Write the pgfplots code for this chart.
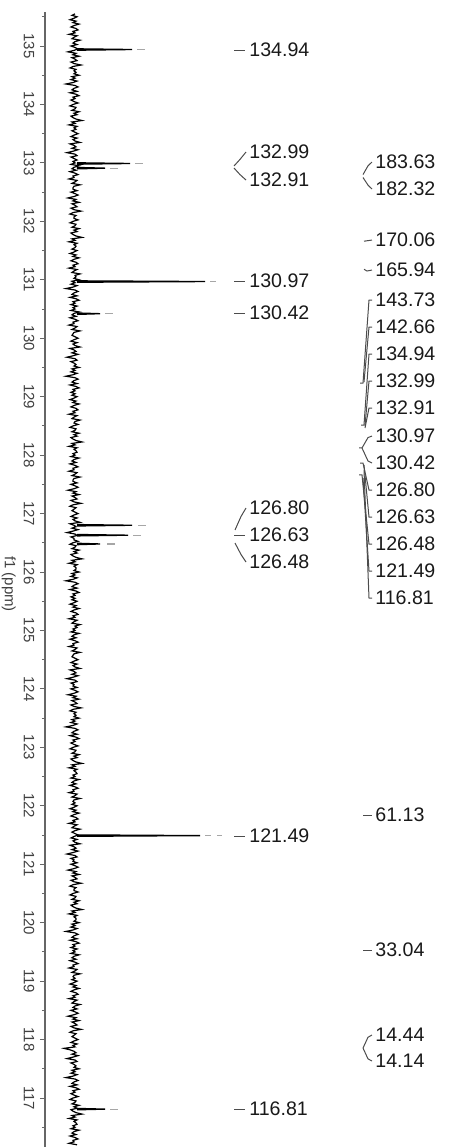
\documentclass[border=0pt]{standalone}
\usepackage{fontspec}
\setmainfont{Liberation Sans}
\usepackage{pgfplots}
\pgfplotsset{compat=1.18}
\newcommand{\lab}{\fontsize{9.8}{11}\selectfont}
\begin{document}
\begin{tikzpicture}[x=1pt,y=1pt]
\useasboundingbox (0,0) rectangle (224.5,573.5);
\begin{axis}[
  at={(22.5pt,0pt)}, anchor=south west,
  scale only axis, width=202pt, height=567.5pt,
  xmin=45, xmax=449, ymin=116.162, ymax=135.582,
  axis x line=none, axis y line*=left,
  ytick={117,118,...,135},
  minor ytick={116.5,117.5,...,135.5},
  tick align=outside, ytick pos=left,
  major tick length=2.5pt, minor tick length=1.5pt,
  tick style={color=black!60, line width=0.5pt},
  axis line style={black!60, line width=0.6pt},
  /pgf/number format/assume math mode=true,
  yticklabel style={rotate=-90, anchor=center, yshift=-5.5pt, font=\fontsize{7.5}{9}\selectfont, text=black!75},
  ylabel={f1 (ppm)},
  every axis y label/.style={at={(axis description cs:-0.09,0.496)}, rotate=-90, anchor=center, font=\fontsize{7.5}{9}\selectfont, text=black!75},
  clip=false,
]
% baseline noise
\addplot[black, line width=0.6pt] coordinates {
(75,135.55) (72,135.525) (77,135.5) (74,135.475) (70,135.45) (76,135.425) (73,135.4) (79,135.375) (74,135.35) (71,135.325) (76,135.3) (78,135.275) (73,135.25) (75,135.225) (69,135.2) (77,135.175) (74,135.15) (72,135.125) (80,135.1) (75,135.075)
(73,135.05) (77,135.025) (71,135) (75,134.975) (78,134.95) (74,134.925) (68,134.9) (76,134.875) (73,134.85) (79,134.825) (72,134.8) (75,134.775) (77,134.75) (71,134.725) (74,134.7) (81,134.675) (73,134.65) (70,134.625) (76,134.6) (74,134.575)
(76,134.55) (74,134.525) (79,134.5) (72,134.475) (75,134.45) (71,134.425) (77,134.4) (73,134.375) (66,134.35) (75,134.325) (78,134.3) (74,134.275) (72,134.25) (77,134.225) (70,134.2) (76,134.175) (79,134.15) (73,134.125) (75,134.1) (71,134.075)
(74,134.05) (78,134.025) (73,134) (70,133.975) (76,133.95) (75,133.925) (72,133.9) (79,133.875) (74,133.85) (77,133.825) (71,133.8) (73,133.775) (76,133.75) (82,133.725) (72,133.7) (75,133.675) (69,133.65) (77,133.625) (74,133.6) (76,133.575)
(72,133.55) (75,133.525) (78,133.5) (74,133.475) (71,133.45) (77,133.425) (73,133.4) (75,133.375) (80,133.35) (70,133.325) (74,133.3) (76,133.275) (72,133.25) (78,133.225) (73,133.2) (67,133.175) (75,133.15) (77,133.125) (71,133.1) (74,133.075)
(77,133.05) (73,133.025) (75,133) (71,132.975) (79,132.95) (74,132.925) (72,132.9) (76,132.875) (70,132.85) (75,132.825) (78,132.8) (73,132.775) (74,132.75) (69,132.725) (77,132.7) (75,132.675) (72,132.65) (80,132.625) (74,132.6) (73,132.575)
(73,132.55) (77,132.525) (71,132.5) (75,132.475) (78,132.45) (74,132.425) (68,132.4) (76,132.375) (73,132.35) (79,132.325) (72,132.3) (75,132.275) (77,132.25) (71,132.225) (74,132.2) (81,132.175) (73,132.15) (70,132.125) (76,132.1) (74,132.075)
(74,132.05) (78,132.025) (73,132) (70,131.975) (76,131.95) (75,131.925) (72,131.9) (79,131.875) (74,131.85) (77,131.825) (71,131.8) (73,131.775) (76,131.75) (82,131.725) (72,131.7) (75,131.675) (69,131.65) (77,131.625) (74,131.6) (76,131.575)
(75,131.55) (72,131.525) (77,131.5) (74,131.475) (70,131.45) (76,131.425) (73,131.4) (79,131.375) (74,131.35) (71,131.325) (76,131.3) (78,131.275) (73,131.25) (75,131.225) (69,131.2) (77,131.175) (74,131.15) (72,131.125) (80,131.1) (75,131.075)
(76,131.05) (74,131.025) (79,131) (72,130.975) (75,130.95) (71,130.925) (77,130.9) (73,130.875) (66,130.85) (75,130.825) (78,130.8) (74,130.775) (72,130.75) (77,130.725) (70,130.7) (76,130.675) (79,130.65) (73,130.625) (75,130.6) (71,130.575)
(77,130.55) (73,130.525) (75,130.5) (71,130.475) (79,130.45) (74,130.425) (72,130.4) (76,130.375) (70,130.35) (75,130.325) (78,130.3) (73,130.275) (74,130.25) (69,130.225) (77,130.2) (75,130.175) (72,130.15) (80,130.125) (74,130.1) (73,130.075)
(72,130.05) (75,130.025) (78,130) (74,129.975) (71,129.95) (77,129.925) (73,129.9) (75,129.875) (80,129.85) (70,129.825) (74,129.8) (76,129.775) (72,129.75) (78,129.725) (73,129.7) (67,129.675) (75,129.65) (77,129.625) (71,129.6) (74,129.575)
(76,129.55) (74,129.525) (79,129.5) (72,129.475) (75,129.45) (71,129.425) (77,129.4) (73,129.375) (66,129.35) (75,129.325) (78,129.3) (74,129.275) (72,129.25) (77,129.225) (70,129.2) (76,129.175) (79,129.15) (73,129.125) (75,129.1) (71,129.075)
(75,129.05) (72,129.025) (77,129) (74,128.975) (70,128.95) (76,128.925) (73,128.9) (79,128.875) (74,128.85) (71,128.825) (76,128.8) (78,128.775) (73,128.75) (75,128.725) (69,128.7) (77,128.675) (74,128.65) (72,128.625) (80,128.6) (75,128.575)
(74,128.55) (78,128.525) (73,128.5) (70,128.475) (76,128.45) (75,128.425) (72,128.4) (79,128.375) (74,128.35) (77,128.325) (71,128.3) (73,128.275) (76,128.25) (82,128.225) (72,128.2) (75,128.175) (69,128.15) (77,128.125) (74,128.1) (76,128.075)
(77,128.05) (73,128.025) (75,128) (71,127.975) (79,127.95) (74,127.925) (72,127.9) (76,127.875) (70,127.85) (75,127.825) (78,127.8) (73,127.775) (74,127.75) (69,127.725) (77,127.7) (75,127.675) (72,127.65) (80,127.625) (74,127.6) (73,127.575)
(73,127.55) (77,127.525) (71,127.5) (75,127.475) (78,127.45) (74,127.425) (68,127.4) (76,127.375) (73,127.35) (79,127.325) (72,127.3) (75,127.275) (77,127.25) (71,127.225) (74,127.2) (81,127.175) (73,127.15) (70,127.125) (76,127.1) (74,127.075)
(72,127.05) (75,127.025) (78,127) (74,126.975) (71,126.95) (77,126.925) (73,126.9) (75,126.875) (80,126.85) (70,126.825) (74,126.8) (76,126.775) (72,126.75) (78,126.725) (73,126.7) (67,126.675) (75,126.65) (77,126.625) (71,126.6) (74,126.575)
(74,126.55) (78,126.525) (73,126.5) (70,126.475) (76,126.45) (75,126.425) (72,126.4) (79,126.375) (74,126.35) (77,126.325) (71,126.3) (73,126.275) (76,126.25) (82,126.225) (72,126.2) (75,126.175) (69,126.15) (77,126.125) (74,126.1) (76,126.075)
(76,126.05) (74,126.025) (79,126) (72,125.975) (75,125.95) (71,125.925) (77,125.9) (73,125.875) (66,125.85) (75,125.825) (78,125.8) (74,125.775) (72,125.75) (77,125.725) (70,125.7) (76,125.675) (79,125.65) (73,125.625) (75,125.6) (71,125.575)
(75,125.55) (72,125.525) (77,125.5) (74,125.475) (70,125.45) (76,125.425) (73,125.4) (79,125.375) (74,125.35) (71,125.325) (76,125.3) (78,125.275) (73,125.25) (75,125.225) (69,125.2) (77,125.175) (74,125.15) (72,125.125) (80,125.1) (75,125.075)
(77,125.05) (73,125.025) (75,125) (71,124.975) (79,124.95) (74,124.925) (72,124.9) (76,124.875) (70,124.85) (75,124.825) (78,124.8) (73,124.775) (74,124.75) (69,124.725) (77,124.7) (75,124.675) (72,124.65) (80,124.625) (74,124.6) (73,124.575)
(72,124.55) (75,124.525) (78,124.5) (74,124.475) (71,124.45) (77,124.425) (73,124.4) (75,124.375) (80,124.35) (70,124.325) (74,124.3) (76,124.275) (72,124.25) (78,124.225) (73,124.2) (67,124.175) (75,124.15) (77,124.125) (71,124.1) (74,124.075)
(73,124.05) (77,124.025) (71,124) (75,123.975) (78,123.95) (74,123.925) (68,123.9) (76,123.875) (73,123.85) (79,123.825) (72,123.8) (75,123.775) (77,123.75) (71,123.725) (74,123.7) (81,123.675) (73,123.65) (70,123.625) (76,123.6) (74,123.575)
(76,123.55) (74,123.525) (79,123.5) (72,123.475) (75,123.45) (71,123.425) (77,123.4) (73,123.375) (66,123.35) (75,123.325) (78,123.3) (74,123.275) (72,123.25) (77,123.225) (70,123.2) (76,123.175) (79,123.15) (73,123.125) (75,123.1) (71,123.075)
(74,123.05) (78,123.025) (73,123) (70,122.975) (76,122.95) (75,122.925) (72,122.9) (79,122.875) (74,122.85) (77,122.825) (71,122.8) (73,122.775) (76,122.75) (82,122.725) (72,122.7) (75,122.675) (69,122.65) (77,122.625) (74,122.6) (76,122.575)
(77,122.55) (73,122.525) (75,122.5) (71,122.475) (79,122.45) (74,122.425) (72,122.4) (76,122.375) (70,122.35) (75,122.325) (78,122.3) (73,122.275) (74,122.25) (69,122.225) (77,122.2) (75,122.175) (72,122.15) (80,122.125) (74,122.1) (73,122.075)
(75,122.05) (72,122.025) (77,122) (74,121.975) (70,121.95) (76,121.925) (73,121.9) (79,121.875) (74,121.85) (71,121.825) (76,121.8) (78,121.775) (73,121.75) (75,121.725) (69,121.7) (77,121.675) (74,121.65) (72,121.625) (80,121.6) (75,121.575)
(72,121.55) (75,121.525) (78,121.5) (74,121.475) (71,121.45) (77,121.425) (73,121.4) (75,121.375) (80,121.35) (70,121.325) (74,121.3) (76,121.275) (72,121.25) (78,121.225) (73,121.2) (67,121.175) (75,121.15) (77,121.125) (71,121.1) (74,121.075)
(73,121.05) (77,121.025) (71,121) (75,120.975) (78,120.95) (74,120.925) (68,120.9) (76,120.875) (73,120.85) (79,120.825) (72,120.8) (75,120.775) (77,120.75) (71,120.725) (74,120.7) (81,120.675) (73,120.65) (70,120.625) (76,120.6) (74,120.575)
(74,120.55) (78,120.525) (73,120.5) (70,120.475) (76,120.45) (75,120.425) (72,120.4) (79,120.375) (74,120.35) (77,120.325) (71,120.3) (73,120.275) (76,120.25) (82,120.225) (72,120.2) (75,120.175) (69,120.15) (77,120.125) (74,120.1) (76,120.075)
(76,120.05) (74,120.025) (79,120) (72,119.975) (75,119.95) (71,119.925) (77,119.9) (73,119.875) (66,119.85) (75,119.825) (78,119.8) (74,119.775) (72,119.75) (77,119.725) (70,119.7) (76,119.675) (79,119.65) (73,119.625) (75,119.6) (71,119.575)
(77,119.55) (73,119.525) (75,119.5) (71,119.475) (79,119.45) (74,119.425) (72,119.4) (76,119.375) (70,119.35) (75,119.325) (78,119.3) (73,119.275) (74,119.25) (69,119.225) (77,119.2) (75,119.175) (72,119.15) (80,119.125) (74,119.1) (73,119.075)
(75,119.05) (72,119.025) (77,119) (74,118.975) (70,118.95) (76,118.925) (73,118.9) (79,118.875) (74,118.85) (71,118.825) (76,118.8) (78,118.775) (73,118.75) (75,118.725) (69,118.7) (77,118.675) (74,118.65) (72,118.625) (80,118.6) (75,118.575)
(73,118.55) (77,118.525) (71,118.5) (75,118.475) (78,118.45) (74,118.425) (68,118.4) (76,118.375) (73,118.35) (79,118.325) (72,118.3) (75,118.275) (77,118.25) (71,118.225) (74,118.2) (81,118.175) (73,118.15) (70,118.125) (76,118.1) (74,118.075)
(72,118.05) (75,118.025) (78,118) (74,117.975) (71,117.95) (77,117.925) (73,117.9) (75,117.875) (64,117.85) (70,117.825) (74,117.8) (76,117.775) (72,117.75) (78,117.725) (73,117.7) (67,117.675) (75,117.65) (77,117.625) (71,117.6) (74,117.575)
(76,117.55) (74,117.525) (79,117.5) (72,117.475) (75,117.45) (71,117.425) (77,117.4) (73,117.375) (66,117.35) (75,117.325) (78,117.3) (74,117.275) (72,117.25) (77,117.225) (70,117.2) (76,117.175) (79,117.15) (73,117.125) (75,117.1) (71,117.075)
(74,117.05) (78,117.025) (73,117) (70,116.975) (76,116.95) (75,116.925) (72,116.9) (79,116.875) (74,116.85) (77,116.825) (71,116.8) (73,116.775) (76,116.75) (82,116.725) (72,116.7) (75,116.675) (69,116.65) (77,116.625) (74,116.6) (76,116.575)
(77,116.55) (73,116.525) (75,116.5) (71,116.475) (79,116.45) (74,116.425) (72,116.4) (76,116.375) (70,116.35) (75,116.325) (78,116.3) (73,116.275) (74,116.25) (69,116.225) (77,116.2)
};
% peaks
\addplot[black, line width=0.65pt] coordinates {(77,134.952) (132,134.94) (77,134.928)};
\addplot[black, line width=0.65pt] coordinates {(77,133.002) (130,132.99) (77,132.978)};
\addplot[black, line width=0.65pt] coordinates {(77,132.922) (105,132.91) (77,132.898)};
\addplot[black, line width=0.65pt] coordinates {(77,130.982) (205,130.97) (77,130.958)};
\addplot[black, line width=0.65pt] coordinates {(77,130.432) (100,130.42) (77,130.408)};
\addplot[black, line width=0.65pt] coordinates {(77,126.812) (132,126.80) (77,126.788)};
\addplot[black, line width=0.65pt] coordinates {(77,126.642) (128,126.63) (77,126.618)};
\addplot[black, line width=0.65pt] coordinates {(77,126.492) (100,126.48) (77,126.468)};
\addplot[black, line width=0.65pt] coordinates {(77,121.502) (200,121.49) (77,121.478)};
\addplot[black, line width=0.65pt] coordinates {(77,116.822) (105,116.81) (77,116.798)};
% small gray marks beyond peak tips
\begin{scope}[black!35, line width=0.6pt]
\draw (axis cs:137,134.94) -- (axis cs:145,134.94);
\draw (axis cs:135,132.99) -- (axis cs:143,132.99);
\draw (axis cs:110,132.91) -- (axis cs:118,132.91);
\draw (axis cs:210,130.97) -- (axis cs:216,130.97);
\draw (axis cs:105,130.42) -- (axis cs:113,130.42);
\draw (axis cs:138,126.80) -- (axis cs:146,126.80);
\draw (axis cs:133,126.63) -- (axis cs:141,126.63);
\draw (axis cs:107,126.48) -- (axis cs:115,126.48);
\draw (axis cs:205,121.49) -- (axis cs:211,121.49) (axis cs:217,121.49) -- (axis cs:222,121.49);
\draw (axis cs:110,116.81) -- (axis cs:118,116.81);
\end{scope}
% middle column connectors
\begin{scope}[black!70, line width=0.5pt]
\draw (axis cs:234,134.93) -- (axis cs:245,134.93);
\draw (axis cs:234,132.947) -- (axis cs:240,133.06) -- (axis cs:246,133.186);
\draw (axis cs:234,132.912) -- (axis cs:240,132.80) -- (axis cs:246,132.707);
\draw (axis cs:234,130.979) -- (axis cs:245,130.979);
\draw (axis cs:234,130.431) -- (axis cs:245,130.431);
\draw (axis cs:235,126.719) -- (axis cs:241,126.95) -- (axis cs:246,127.095);
\draw (axis cs:234,126.633) -- (axis cs:245,126.633);
\draw (axis cs:235,126.496) -- (axis cs:241,126.30) -- (axis cs:246,126.171);
\draw (axis cs:234,121.483) -- (axis cs:245,121.483);
\draw (axis cs:234,116.81) -- (axis cs:245,116.81);
\end{scope}
\begin{scope}[every node/.style={anchor=west, inner sep=0pt, font=\lab, text=black!90}]
\node at (axis cs:249,134.93) {134.94};
\node at (axis cs:249,133.186) {132.99};
\node at (axis cs:249,132.707) {132.91};
\node at (axis cs:249,130.979) {130.97};
\node at (axis cs:249,130.431) {130.42};
\node at (axis cs:249,127.095) {126.80};
\node at (axis cs:249,126.633) {126.63};
\node at (axis cs:249,126.171) {126.48};
\node at (axis cs:249,121.483) {121.49};
\node at (axis cs:249,116.81) {116.81};
% right column
\node at (axis cs:375,133.015) {183.63};
\node at (axis cs:375,132.553) {182.32};
\node at (axis cs:375,131.680) {170.06};
\node at (axis cs:375,131.167) {165.94};
\node at (axis cs:375,130.654) {143.73};
\node at (axis cs:375,130.192) {142.66};
\node at (axis cs:375,129.730) {134.94};
\node at (axis cs:375,129.268) {132.99};
\node at (axis cs:375,128.806) {132.91};
\node at (axis cs:375,128.327) {130.97};
\node at (axis cs:375,127.865) {130.42};
\node at (axis cs:375,127.403) {126.80};
\node at (axis cs:375,126.941) {126.63};
\node at (axis cs:375,126.479) {126.48};
\node at (axis cs:375,126.017) {121.49};
\node at (axis cs:375,125.555) {116.81};
\node at (axis cs:375,121.842) {61.13};
\node at (axis cs:375,119.532) {33.04};
\node at (axis cs:375,118.078) {14.44};
\node at (axis cs:375,117.633) {14.14};
\end{scope}
% right column connectors
\begin{scope}[black!70, line width=0.5pt]
\draw (axis cs:372,133.015) -- (axis cs:368,132.95) -- (axis cs:363,132.80);
\draw (axis cs:372,132.553) -- (axis cs:368,132.62) -- (axis cs:363,132.75);
\draw (axis cs:364,131.66) -- (axis cs:372,131.680);
\draw (axis cs:364,131.18) -- (axis cs:367,131.15) -- (axis cs:372,131.167);
\draw (axis cs:372,130.654) -- (axis cs:369,130.654) -- (axis cs:363,129.234) -- (axis cs:360,129.234);
\draw (axis cs:372,130.192) -- (axis cs:369,130.192) -- (axis cs:364,129.25);
\draw (axis cs:372,129.730) -- (axis cs:369,129.730) -- (axis cs:364,128.515) -- (axis cs:361,128.515);
\draw (axis cs:372,129.268) -- (axis cs:369,129.268) -- (axis cs:365,128.50);
\draw (axis cs:372,128.806) -- (axis cs:369,128.806) -- (axis cs:365,128.464);
\draw (axis cs:372,128.327) -- (axis cs:368,128.30) -- (axis cs:362,128.122) -- (axis cs:359,128.122);
\draw (axis cs:372,127.865) -- (axis cs:368,127.90) -- (axis cs:362,128.122);
\draw (axis cs:372,127.403) -- (axis cs:369,127.403) -- (axis cs:363,127.865) -- (axis cs:360,127.865);
\draw (axis cs:372,126.941) -- (axis cs:369,126.941) -- (axis cs:364,127.831);
\draw (axis cs:372,126.479) -- (axis cs:369,126.479) -- (axis cs:362,127.660) -- (axis cs:359,127.660);
\draw (axis cs:372,126.017) -- (axis cs:369,126.017) -- (axis cs:363,127.608);
\draw (axis cs:372,125.555) -- (axis cs:369,125.555) -- (axis cs:364,127.745);
\draw (axis cs:363,121.842) -- (axis cs:372,121.842);
\draw (axis cs:363,119.532) -- (axis cs:372,119.532);
\draw (axis cs:372,118.078) -- (axis cs:368,118.04) -- (axis cs:363,117.855);
\draw (axis cs:372,117.633) -- (axis cs:368,117.67) -- (axis cs:363,117.855);
\end{scope}
\end{axis}
\end{tikzpicture}
\end{document}
